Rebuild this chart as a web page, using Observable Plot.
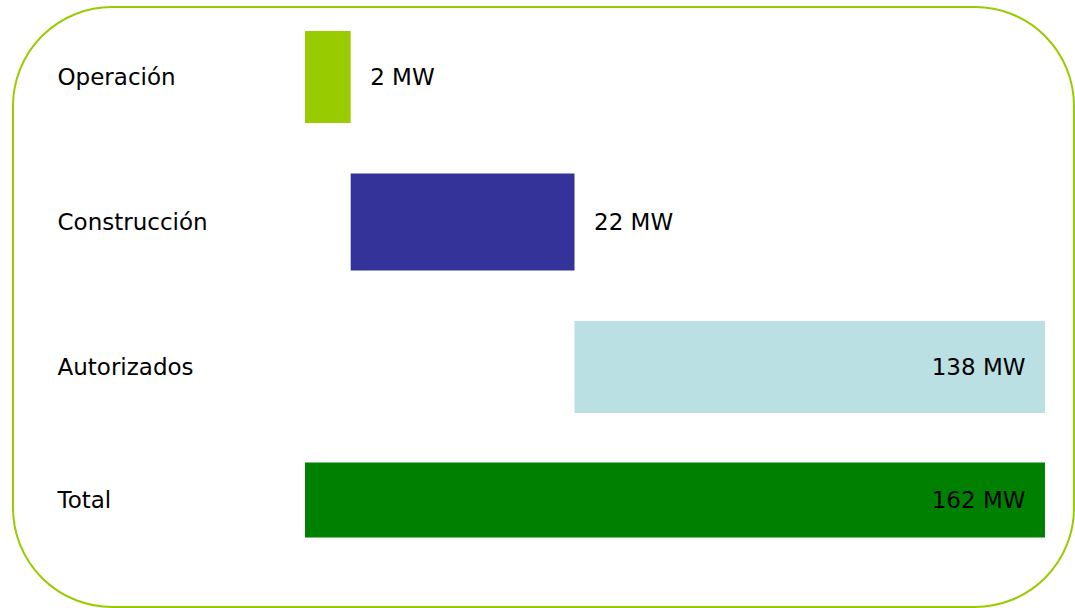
<!DOCTYPE html>
<html>
<head>
<meta charset="utf-8">
<script src="https://cdn.jsdelivr.net/npm/d3@7"></script>
<script src="https://cdn.jsdelivr.net/npm/@observablehq/plot@0.6"></script>
<style>
  html, body { margin: 0; padding: 0; background: #fff; }
  #wrap { position: relative; width: 1075px; height: 608px; }
  #border { position: absolute; left: 12px; top: 6px; width: 1059px; height: 598px;
            border: 2px solid #99cc00; border-radius: 100px; box-sizing: content-box; }
  #chart { position: absolute; left: 0; top: 0; }
</style>
</head>
<body>
<div id="wrap"><div id="border"></div><div id="chart"></div></div>
<script>
// Categories and values (MW)
const categories = ["Operación", "Construcción", "Autorizados", "Total"];
const valueLabels = ["2 MW", "22 MW", "138 MW", "162 MW"];
// Schematic bar extents as drawn in the reference (not proportional to MW)
const barStart = [0, 10, 59, 0];
const barEnd = [10, 59, 162, 162];
const colors = ["#99cc00", "#333399", "#bbe0e3", "#008000"];
const labelInside = [false, false, true, true];

const rows = categories.map((c, i) => ({
  cat: c, x1: barStart[i], x2: barEnd[i], label: valueLabels[i],
  color: colors[i], inside: labelInside[i]
}));

const font = "DejaVu Sans, sans-serif";
const fs = 23;
const isTotal = d => d.cat === "Total";
const isCons = d => d.cat === "Construcción";

const plot = Plot.plot({
  width: 1075,
  height: 608,
  marginLeft: 305,
  marginRight: 30,
  marginTop: 30,
  marginBottom: 49.5,
  style: { background: "transparent", fontFamily: font },
  x: { domain: [0, 162], axis: null },
  y: { domain: categories, paddingInner: 0.368, paddingOuter: 0, axis: null },
  marks: [
    Plot.barX(rows.filter(d => !isTotal(d) && !isCons(d)), {
      y: "cat", x1: "x1", x2: "x2", fill: d => d.color
    }),
    Plot.barX(rows.filter(isCons), {
      y: "cat", x1: "x1", x2: "x2", fill: d => d.color, insetTop: -2.5, insetBottom: -2.5
    }),
    Plot.barX(rows.filter(isTotal), {
      y: "cat", x1: "x1", x2: "x2", fill: d => d.color, insetTop: -3.5, insetBottom: 20.5
    }),
    Plot.text(rows.filter(d => !isTotal(d)), {
      y: "cat", text: "cat", frameAnchor: "left", textAnchor: "start", dx: -248,
      fontSize: fs, fill: "#000"
    }),
    Plot.text(rows.filter(isTotal), {
      y: "cat", text: "cat", frameAnchor: "left", textAnchor: "start", dx: -248, dy: -12,
      fontSize: fs, fill: "#000"
    }),
    Plot.text(rows.filter(d => !d.inside), {
      y: "cat", x: "x2", text: "label", textAnchor: "start", dx: 19,
      fontSize: fs, fill: "#000"
    }),
    Plot.text(rows.filter(d => d.inside && !isTotal(d)), {
      y: "cat", x: "x2", text: "label", textAnchor: "end", dx: -20,
      fontSize: fs, fill: "#000"
    }),
    Plot.text(rows.filter(isTotal), {
      y: "cat", x: "x2", text: "label", textAnchor: "end", dx: -20, dy: -12,
      fontSize: fs, fill: "#000"
    })
  ]
});
plot.querySelectorAll("text").forEach(t => t.style.fontFamily = font);
document.getElementById("chart").appendChild(plot);
</script>
</body>
</html>
